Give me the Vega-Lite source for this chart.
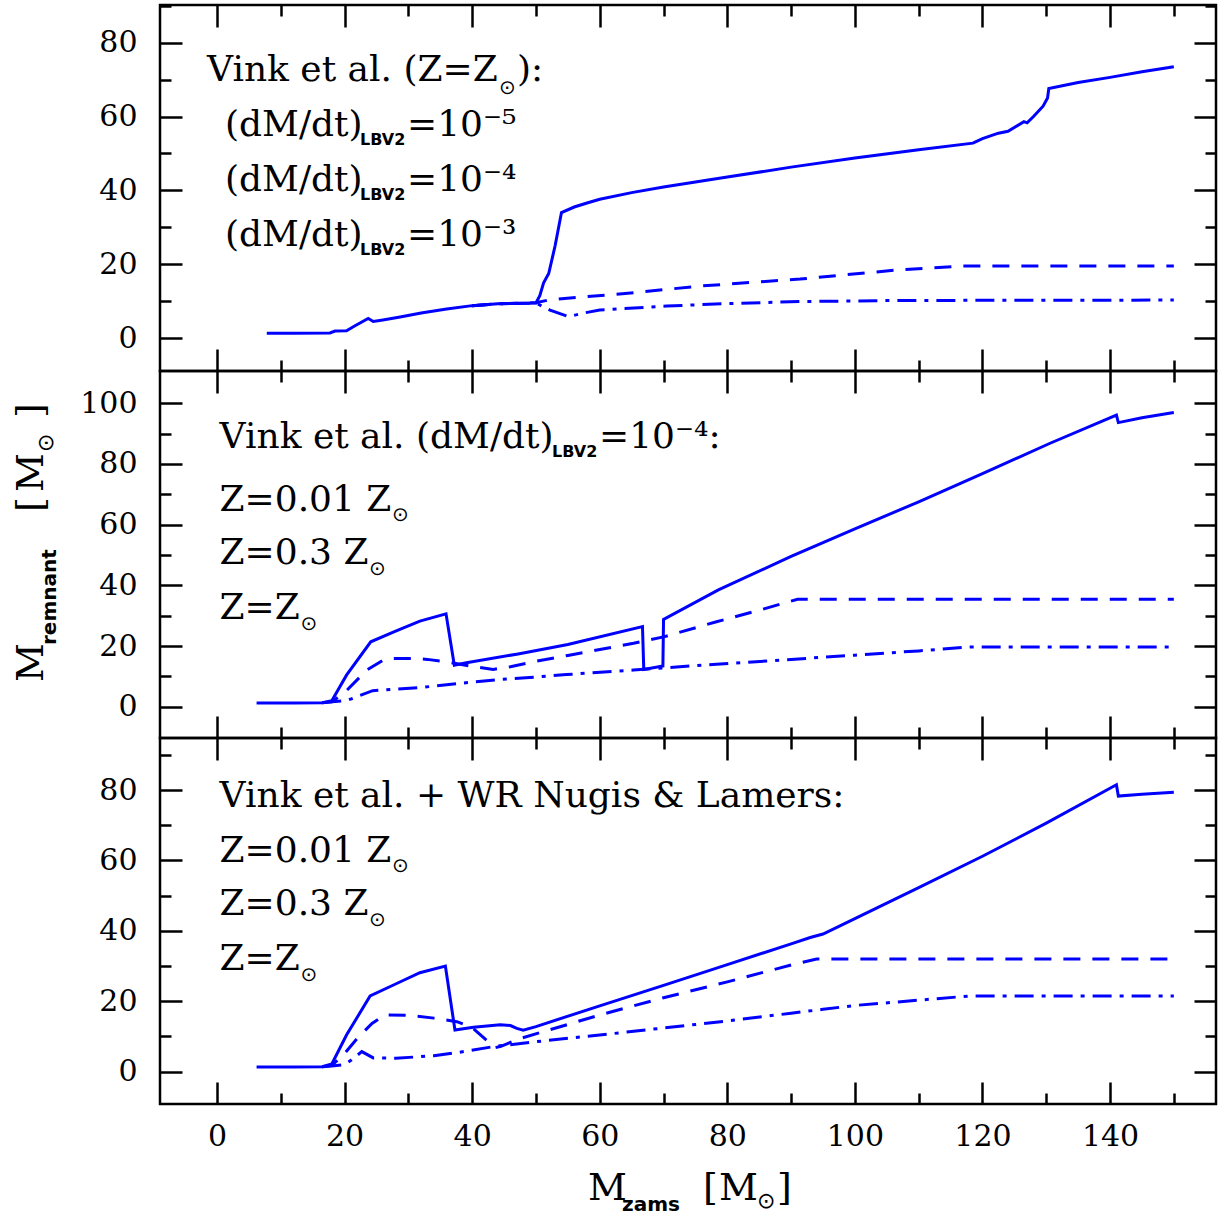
{
  "$schema": "https://vega.github.io/schema/vega-lite/v6.json",
  "autosize": {"type": "none"},
  "padding": {"left": 160, "top": 5, "right": 1058, "bottom": 1213},
  "background": "white",
  "spacing": 0,
  "bounds": "flush",
  "config": {
    "view": {"stroke": "black", "strokeWidth": 2.5},
    "axis": {"domain": false, "grid": false, "tickColor": "black", "tickWidth": 2.5, "labelFont": "DejaVu Serif", "labelFontSize": 30, "labelColor": "black", "labelOverlap": false, "labelFlush": false, "labelBound": false}
  },
  "datasets": {
    "p1": [
      {"x": 7.8, "y": 1.3, "s": "a"}, {"x": 12, "y": 1.3, "s": "a"}, {"x": 17.7, "y": 1.4, "s": "a"}, {"x": 18.5, "y": 1.9, "s": "a"}, {"x": 20.3, "y": 2.0, "s": "a"}, {"x": 21.5, "y": 3.2, "s": "a"}, {"x": 23.7, "y": 5.3, "s": "a"}, {"x": 24.5, "y": 4.5, "s": "a"}, {"x": 26, "y": 4.9, "s": "a"}, {"x": 28.7, "y": 5.7, "s": "a"}, {"x": 32, "y": 6.8, "s": "a"}, {"x": 36, "y": 7.9, "s": "a"}, {"x": 40, "y": 8.8, "s": "a"}, {"x": 44, "y": 9.3, "s": "a"}, {"x": 50, "y": 9.5, "s": "a"}, {"x": 50.6, "y": 11.5, "s": "a"}, {"x": 51.2, "y": 15, "s": "a"}, {"x": 52, "y": 17.5, "s": "a"}, {"x": 53, "y": 25, "s": "a"}, {"x": 54, "y": 34, "s": "a"}, {"x": 56, "y": 35.5, "s": "a"}, {"x": 58, "y": 36.6, "s": "a"}, {"x": 60, "y": 37.6, "s": "a"}, {"x": 65, "y": 39.4, "s": "a"}, {"x": 70, "y": 40.9, "s": "a"}, {"x": 75, "y": 42.3, "s": "a"}, {"x": 80, "y": 43.6, "s": "a"}, {"x": 90, "y": 46.3, "s": "a"}, {"x": 100, "y": 48.8, "s": "a"}, {"x": 110, "y": 51.0, "s": "a"}, {"x": 118.5, "y": 52.8, "s": "a"}, {"x": 119, "y": 53.2, "s": "a"}, {"x": 120, "y": 54.0, "s": "a"}, {"x": 122.5, "y": 55.5, "s": "a"}, {"x": 124, "y": 56.0, "s": "a"}, {"x": 126.5, "y": 58.6, "s": "a"}, {"x": 127, "y": 58.3, "s": "a"}, {"x": 128, "y": 60.0, "s": "a"}, {"x": 129.5, "y": 62.8, "s": "a"}, {"x": 130.2, "y": 65.0, "s": "a"}, {"x": 130.4, "y": 67.6, "s": "a"}, {"x": 135, "y": 69.2, "s": "a"}, {"x": 140, "y": 70.6, "s": "a"}, {"x": 145, "y": 72.1, "s": "a"}, {"x": 150, "y": 73.5, "s": "a"},
      {"x": 40, "y": 8.8, "s": "b"}, {"x": 44, "y": 9.3, "s": "b"}, {"x": 50, "y": 9.6, "s": "b"}, {"x": 52.2, "y": 10.4, "s": "b"}, {"x": 65.3, "y": 12.3, "s": "b"}, {"x": 75.7, "y": 14.1, "s": "b"}, {"x": 91.4, "y": 16.0, "s": "b"}, {"x": 107, "y": 18.5, "s": "b"}, {"x": 116.5, "y": 19.5, "s": "b"}, {"x": 150, "y": 19.5, "s": "b"},
      {"x": 40, "y": 8.8, "s": "c"}, {"x": 44, "y": 9.3, "s": "c"}, {"x": 50, "y": 9.5, "s": "c"}, {"x": 52.2, "y": 7.6, "s": "c"}, {"x": 55.1, "y": 5.8, "s": "c"}, {"x": 57.5, "y": 6.8, "s": "c"}, {"x": 60, "y": 7.6, "s": "c"}, {"x": 70.5, "y": 8.7, "s": "c"}, {"x": 80.9, "y": 9.4, "s": "c"}, {"x": 91.4, "y": 9.9, "s": "c"}, {"x": 107, "y": 10.2, "s": "c"}, {"x": 150, "y": 10.3, "s": "c"}
    ],
    "p2": [
      {"x": 6.2, "y": 1.2, "s": "a"}, {"x": 12, "y": 1.2, "s": "a"}, {"x": 16.5, "y": 1.3, "s": "a"}, {"x": 18, "y": 2.0, "s": "a"}, {"x": 20.3, "y": 10.4, "s": "a"}, {"x": 24.1, "y": 21.4, "s": "a"}, {"x": 28, "y": 24.9, "s": "a"}, {"x": 31.8, "y": 28.2, "s": "a"}, {"x": 35.9, "y": 30.6, "s": "a"}, {"x": 37.2, "y": 13.7, "s": "a"}, {"x": 39.1, "y": 14.5, "s": "a"}, {"x": 47.2, "y": 17.4, "s": "a"}, {"x": 55, "y": 20.5, "s": "a"}, {"x": 66.7, "y": 26.4, "s": "a"}, {"x": 66.9, "y": 12.3, "s": "a"}, {"x": 69.9, "y": 13.4, "s": "a"}, {"x": 70.0, "y": 28.8, "s": "a"}, {"x": 78.6, "y": 38.5, "s": "a"}, {"x": 90, "y": 49.5, "s": "a"}, {"x": 100, "y": 58.6, "s": "a"}, {"x": 110, "y": 67.5, "s": "a"}, {"x": 120, "y": 76.8, "s": "a"}, {"x": 130.6, "y": 86.8, "s": "a"}, {"x": 141, "y": 96.1, "s": "a"}, {"x": 141.3, "y": 93.6, "s": "a"}, {"x": 145, "y": 95.2, "s": "a"}, {"x": 150, "y": 96.9, "s": "a"},
      {"x": 16.5, "y": 1.3, "s": "b"}, {"x": 18, "y": 1.6, "s": "b"}, {"x": 20.1, "y": 4.9, "s": "b"}, {"x": 23.5, "y": 12.1, "s": "b"}, {"x": 26.1, "y": 15.4, "s": "b"}, {"x": 27.1, "y": 15.9, "s": "b"}, {"x": 30.8, "y": 15.9, "s": "b"}, {"x": 33, "y": 15.6, "s": "b"}, {"x": 36, "y": 14.8, "s": "b"}, {"x": 40, "y": 13.3, "s": "b"}, {"x": 43.3, "y": 12.3, "s": "b"}, {"x": 46, "y": 13.2, "s": "b"}, {"x": 49.6, "y": 14.8, "s": "b"}, {"x": 55, "y": 16.9, "s": "b"}, {"x": 65.3, "y": 20.9, "s": "b"}, {"x": 70, "y": 23.0, "s": "b"}, {"x": 78.3, "y": 28.0, "s": "b"}, {"x": 85, "y": 31.8, "s": "b"}, {"x": 91, "y": 35.4, "s": "b"}, {"x": 150, "y": 35.4, "s": "b"},
      {"x": 16.5, "y": 1.3, "s": "c"}, {"x": 18, "y": 1.6, "s": "c"}, {"x": 20.3, "y": 2.0, "s": "c"}, {"x": 24.4, "y": 5.3, "s": "c"}, {"x": 31.8, "y": 6.3, "s": "c"}, {"x": 38.1, "y": 7.7, "s": "c"}, {"x": 44.4, "y": 9.0, "s": "c"}, {"x": 49.6, "y": 9.7, "s": "c"}, {"x": 54.8, "y": 10.6, "s": "c"}, {"x": 65.3, "y": 12.1, "s": "c"}, {"x": 70, "y": 12.8, "s": "c"}, {"x": 78.3, "y": 14.0, "s": "c"}, {"x": 90, "y": 15.6, "s": "c"}, {"x": 100, "y": 17.0, "s": "c"}, {"x": 110, "y": 18.4, "s": "c"}, {"x": 118, "y": 19.7, "s": "c"}, {"x": 150, "y": 19.7, "s": "c"}
    ],
    "p3": [
      {"x": 6.2, "y": 1.3, "s": "a"}, {"x": 12, "y": 1.3, "s": "a"}, {"x": 16.5, "y": 1.4, "s": "a"}, {"x": 18, "y": 2.2, "s": "a"}, {"x": 20.3, "y": 10.4, "s": "a"}, {"x": 24, "y": 21.5, "s": "a"}, {"x": 28, "y": 24.9, "s": "a"}, {"x": 31.8, "y": 28.1, "s": "a"}, {"x": 35.8, "y": 30.0, "s": "a"}, {"x": 37.3, "y": 11.8, "s": "a"}, {"x": 40.2, "y": 12.6, "s": "a"}, {"x": 44.4, "y": 13.3, "s": "a"}, {"x": 46, "y": 13.1, "s": "a"}, {"x": 47, "y": 12.3, "s": "a"}, {"x": 48, "y": 11.8, "s": "a"}, {"x": 50, "y": 12.8, "s": "a"}, {"x": 60, "y": 18.7, "s": "a"}, {"x": 70, "y": 24.5, "s": "a"}, {"x": 80, "y": 30.4, "s": "a"}, {"x": 90, "y": 36.3, "s": "a"}, {"x": 93, "y": 38.1, "s": "a"}, {"x": 95, "y": 39.1, "s": "a"}, {"x": 100, "y": 43.5, "s": "a"}, {"x": 110, "y": 52.3, "s": "a"}, {"x": 120, "y": 61.2, "s": "a"}, {"x": 130, "y": 70.6, "s": "a"}, {"x": 141, "y": 81.5, "s": "a"}, {"x": 141.3, "y": 78.3, "s": "a"}, {"x": 145, "y": 78.8, "s": "a"}, {"x": 150, "y": 79.4, "s": "a"},
      {"x": 16.5, "y": 1.4, "s": "b"}, {"x": 18, "y": 1.8, "s": "b"}, {"x": 19.8, "y": 4.7, "s": "b"}, {"x": 22, "y": 9.5, "s": "b"}, {"x": 24.3, "y": 13.7, "s": "b"}, {"x": 26.3, "y": 16.1, "s": "b"}, {"x": 30, "y": 16.0, "s": "b"}, {"x": 34, "y": 15.2, "s": "b"}, {"x": 37.6, "y": 14.2, "s": "b"}, {"x": 40, "y": 12.5, "s": "b"}, {"x": 41.7, "y": 9.8, "s": "b"}, {"x": 43.6, "y": 6.8, "s": "b"}, {"x": 44.5, "y": 7.2, "s": "b"}, {"x": 47.5, "y": 9.4, "s": "b"}, {"x": 52, "y": 11.8, "s": "b"}, {"x": 60, "y": 16.1, "s": "b"}, {"x": 70, "y": 21.0, "s": "b"}, {"x": 80, "y": 25.5, "s": "b"}, {"x": 90, "y": 30.3, "s": "b"}, {"x": 94, "y": 32.0, "s": "b"}, {"x": 150, "y": 32.0, "s": "b"},
      {"x": 16.5, "y": 1.4, "s": "c"}, {"x": 18, "y": 1.6, "s": "c"}, {"x": 20, "y": 2.0, "s": "c"}, {"x": 21, "y": 3.2, "s": "c"}, {"x": 22.7, "y": 5.7, "s": "c"}, {"x": 24.5, "y": 3.9, "s": "c"}, {"x": 28, "y": 3.8, "s": "c"}, {"x": 34, "y": 4.5, "s": "c"}, {"x": 38, "y": 5.5, "s": "c"}, {"x": 43.3, "y": 7.1, "s": "c"}, {"x": 50, "y": 8.5, "s": "c"}, {"x": 60, "y": 10.4, "s": "c"}, {"x": 70, "y": 12.4, "s": "c"}, {"x": 80, "y": 14.4, "s": "c"}, {"x": 90, "y": 16.6, "s": "c"}, {"x": 95, "y": 17.7, "s": "c"}, {"x": 100, "y": 18.8, "s": "c"}, {"x": 110, "y": 20.3, "s": "c"}, {"x": 118, "y": 21.5, "s": "c"}, {"x": 150, "y": 21.5, "s": "c"}
    ],
    "t1": [
      {"x": -1.57, "y": 69.63, "t": "Vink et al. (Z=Z", "k": "m"},
      {"x": 44.21, "y": 66.2, "t": "⊙", "k": "o"},
      {"x": 47.03, "y": 69.63, "t": "):", "k": "m"},
      {"x": 1.25, "y": 54.74, "t": "(dM/dt)", "k": "m"},
      {"x": 22.42, "y": 52.3, "t": "LBV2", "k": "s"},
      {"x": 29.79, "y": 54.74, "t": "=10⁻⁵", "k": "m"},
      {"x": 1.25, "y": 39.85, "t": "(dM/dt)", "k": "m"},
      {"x": 22.42, "y": 37.41, "t": "LBV2", "k": "s"},
      {"x": 29.79, "y": 39.85, "t": "=10⁻⁴", "k": "m"},
      {"x": 1.25, "y": 24.96, "t": "(dM/dt)", "k": "m"},
      {"x": 22.42, "y": 22.52, "t": "LBV2", "k": "s"},
      {"x": 29.79, "y": 24.96, "t": "=10⁻³", "k": "m"}
    ],
    "t2": [
      {"x": 0.4, "y": 85.14, "t": "Vink et al. (dM/dt)", "k": "m"},
      {"x": 52.52, "y": 82.27, "t": "LBV2", "k": "s"},
      {"x": 59.89, "y": 85.14, "t": "=10⁻⁴:", "k": "m"},
      {"x": 0.4, "y": 64.58, "t": "Z=0.01 Z", "k": "m"},
      {"x": 27.44, "y": 61.2, "t": "⊙", "k": "o"},
      {"x": 0.4, "y": 47.02, "t": "Z=0.3 Z", "k": "m"},
      {"x": 23.83, "y": 43.4, "t": "⊙", "k": "o"},
      {"x": 0.4, "y": 28.9, "t": "Z=Z", "k": "m"},
      {"x": 13.09, "y": 25.4, "t": "⊙", "k": "o"},
      {"x": -27.28, "y": 8.15, "t": "M", "k": "ym"},
      {"x": -25.24, "y": 20.34, "t": "remnant", "k": "ys"},
      {"x": -27.28, "y": 64.15, "t": "[", "k": "ym"},
      {"x": -27.28, "y": 70.74, "t": "M", "k": "ym"},
      {"x": -25.71, "y": 83.92, "t": "⊙", "k": "yo"},
      {"x": -27.28, "y": 95.12, "t": "]", "k": "ym"}
    ],
    "t3": [
      {"x": 0.4, "y": 75.11, "t": "Vink et al. + WR Nugis & Lamers:", "k": "m"},
      {"x": 0.4, "y": 59.65, "t": "Z=0.01 Z", "k": "m"},
      {"x": 27.44, "y": 56.72, "t": "⊙", "k": "o"},
      {"x": 0.4, "y": 44.5, "t": "Z=0.3 Z", "k": "m"},
      {"x": 23.83, "y": 41.52, "t": "⊙", "k": "o"},
      {"x": 0.4, "y": 28.87, "t": "Z=Z", "k": "m"},
      {"x": 13.09, "y": 25.89, "t": "⊙", "k": "o"},
      {"x": 58.16, "y": -36.5, "t": "M", "k": "xm"},
      {"x": 63.49, "y": -39.6, "t": "zams", "k": "xs"},
      {"x": 76.19, "y": -36.5, "t": "[", "k": "xm"},
      {"x": 78.7, "y": -36.5, "t": "M", "k": "xm"},
      {"x": 84.66, "y": -38.8, "t": "⊙", "k": "xo"},
      {"x": 87.79, "y": -36.5, "t": "]", "k": "xm"}
    ]
  },
  "vconcat": [
    {
      "width": 1056, "height": 366,
      "resolve": {"axis": {"x": "independent", "y": "independent"}},
      "layer": [
        {"data": {"name": "p1"}, "transform": [{"filter": "datum.s == 'a'"}],
         "mark": {"type": "line", "color": "#0000ff", "strokeWidth": 3},
         "encoding": {
           "x": {"field": "x", "type": "quantitative", "scale": {"domain": [-8.94, 156.61], "nice": false, "zero": false}, "axis": {"orient": "bottom", "values": [0, 20, 40, 60, 80, 100, 120, 140], "tickSize": -22, "labels": false, "title": null}},
           "y": {"field": "y", "type": "quantitative", "scale": {"domain": [-8.9, 90.2], "nice": false, "zero": false}, "axis": {"orient": "left", "values": [0, 20, 40, 60, 80], "tickSize": -22, "labelPadding": 45, "title": null}}
         }},
        {"data": {"name": "p1"}, "transform": [{"filter": "datum.s == 'b'"}],
         "mark": {"type": "line", "color": "#0000ff", "strokeWidth": 3, "strokeDash": [17, 12]},
         "encoding": {
           "x": {"field": "x", "type": "quantitative", "scale": {"domain": [-8.94, 156.61], "nice": false, "zero": false}, "axis": {"orient": "bottom", "values": [10, 30, 50, 70, 90, 110, 130, 150], "tickSize": -11, "labels": false, "title": null}},
           "y": {"field": "y", "type": "quantitative", "scale": {"domain": [-8.9, 90.2], "nice": false, "zero": false}, "axis": {"orient": "left", "values": [10, 30, 50, 70, 90], "tickSize": -11, "labels": false, "title": null}}
         }},
        {"data": {"name": "p1"}, "transform": [{"filter": "datum.s == 'c'"}],
         "mark": {"type": "line", "color": "#0000ff", "strokeWidth": 3, "strokeDash": [19, 8, 4, 8]},
         "encoding": {
           "x": {"field": "x", "type": "quantitative", "scale": {"domain": [-8.94, 156.61], "nice": false, "zero": false}, "axis": {"orient": "top", "values": [0, 20, 40, 60, 80, 100, 120, 140], "tickSize": -22, "labels": false, "title": null}},
           "y": {"field": "y", "type": "quantitative", "scale": {"domain": [-8.9, 90.2], "nice": false, "zero": false}, "axis": {"orient": "right", "values": [0, 20, 40, 60, 80], "tickSize": -22, "labels": false, "title": null}}
         }},
        {"data": {"name": "t1"}, "transform": [{"filter": "datum.k == 'm'"}],
         "mark": {"type": "text", "align": "left", "baseline": "alphabetic", "font": "DejaVu Serif", "fontSize": 36, "color": "black"},
         "encoding": {
           "x": {"field": "x", "type": "quantitative", "scale": {"domain": [-8.94, 156.61], "nice": false, "zero": false}, "axis": {"orient": "top", "values": [10, 30, 50, 70, 90, 110, 130, 150], "tickSize": -11, "labels": false, "title": null}},
           "y": {"field": "y", "type": "quantitative", "scale": {"domain": [-8.9, 90.2], "nice": false, "zero": false}, "axis": {"orient": "right", "values": [10, 30, 50, 70, 90], "tickSize": -11, "labels": false, "title": null}},
           "text": {"field": "t"}
         }},
        {"data": {"name": "t1"}, "transform": [{"filter": "datum.k == 's'"}],
         "mark": {"type": "text", "align": "left", "baseline": "alphabetic", "font": "DejaVu Sans", "fontWeight": "bold", "fontSize": 16, "color": "black"},
         "encoding": {
           "x": {"field": "x", "type": "quantitative", "scale": {"domain": [-8.94, 156.61], "nice": false, "zero": false}, "axis": null},
           "y": {"field": "y", "type": "quantitative", "scale": {"domain": [-8.9, 90.2], "nice": false, "zero": false}, "axis": null},
           "text": {"field": "t"}
         }},
        {"data": {"name": "t1"}, "transform": [{"filter": "datum.k == 'o'"}],
         "mark": {"type": "text", "align": "left", "baseline": "alphabetic", "font": "DejaVu Sans", "fontSize": 20, "color": "black"},
         "encoding": {
           "x": {"field": "x", "type": "quantitative", "scale": {"domain": [-8.94, 156.61], "nice": false, "zero": false}, "axis": null},
           "y": {"field": "y", "type": "quantitative", "scale": {"domain": [-8.9, 90.2], "nice": false, "zero": false}, "axis": null},
           "text": {"field": "t"}
         }}
      ]
    },
    {
      "width": 1056, "height": 367,
      "resolve": {"axis": {"x": "independent", "y": "independent"}},
      "layer": [
        {"data": {"name": "p2"}, "transform": [{"filter": "datum.s == 'a'"}],
         "mark": {"type": "line", "color": "#0000ff", "strokeWidth": 3},
         "encoding": {
           "x": {"field": "x", "type": "quantitative", "scale": {"domain": [-8.94, 156.61], "nice": false, "zero": false}, "axis": {"orient": "bottom", "values": [0, 20, 40, 60, 80, 100, 120, 140], "tickSize": -22, "labels": false, "title": null}},
           "y": {"field": "y", "type": "quantitative", "scale": {"domain": [-10.3, 110.6], "nice": false, "zero": false}, "axis": {"orient": "left", "values": [0, 20, 40, 60, 80, 100], "tickSize": -22, "labelPadding": 45, "title": null}}
         }},
        {"data": {"name": "p2"}, "transform": [{"filter": "datum.s == 'b'"}],
         "mark": {"type": "line", "color": "#0000ff", "strokeWidth": 3, "strokeDash": [17, 12]},
         "encoding": {
           "x": {"field": "x", "type": "quantitative", "scale": {"domain": [-8.94, 156.61], "nice": false, "zero": false}, "axis": {"orient": "bottom", "values": [10, 30, 50, 70, 90, 110, 130, 150], "tickSize": -11, "labels": false, "title": null}},
           "y": {"field": "y", "type": "quantitative", "scale": {"domain": [-10.3, 110.6], "nice": false, "zero": false}, "axis": {"orient": "left", "values": [10, 30, 50, 70, 90], "tickSize": -11, "labels": false, "title": null}}
         }},
        {"data": {"name": "p2"}, "transform": [{"filter": "datum.s == 'c'"}],
         "mark": {"type": "line", "color": "#0000ff", "strokeWidth": 3, "strokeDash": [19, 8, 4, 8]},
         "encoding": {
           "x": {"field": "x", "type": "quantitative", "scale": {"domain": [-8.94, 156.61], "nice": false, "zero": false}, "axis": {"orient": "top", "values": [0, 20, 40, 60, 80, 100, 120, 140], "tickSize": -22, "labels": false, "title": null}},
           "y": {"field": "y", "type": "quantitative", "scale": {"domain": [-10.3, 110.6], "nice": false, "zero": false}, "axis": {"orient": "right", "values": [0, 20, 40, 60, 80, 100], "tickSize": -22, "labels": false, "title": null}}
         }},
        {"data": {"name": "t2"}, "transform": [{"filter": "datum.k == 'm'"}],
         "mark": {"type": "text", "align": "left", "baseline": "alphabetic", "font": "DejaVu Serif", "fontSize": 36, "color": "black"},
         "encoding": {
           "x": {"field": "x", "type": "quantitative", "scale": {"domain": [-8.94, 156.61], "nice": false, "zero": false}, "axis": {"orient": "top", "values": [10, 30, 50, 70, 90, 110, 130, 150], "tickSize": -11, "labels": false, "title": null}},
           "y": {"field": "y", "type": "quantitative", "scale": {"domain": [-10.3, 110.6], "nice": false, "zero": false}, "axis": {"orient": "right", "values": [10, 30, 50, 70, 90], "tickSize": -11, "labels": false, "title": null}},
           "text": {"field": "t"}
         }},
        {"data": {"name": "t2"}, "transform": [{"filter": "datum.k == 's'"}],
         "mark": {"type": "text", "align": "left", "baseline": "alphabetic", "font": "DejaVu Sans", "fontWeight": "bold", "fontSize": 16, "color": "black"},
         "encoding": {
           "x": {"field": "x", "type": "quantitative", "scale": {"domain": [-8.94, 156.61], "nice": false, "zero": false}, "axis": null},
           "y": {"field": "y", "type": "quantitative", "scale": {"domain": [-10.3, 110.6], "nice": false, "zero": false}, "axis": null},
           "text": {"field": "t"}
         }},
        {"data": {"name": "t2"}, "transform": [{"filter": "datum.k == 'o'"}],
         "mark": {"type": "text", "align": "left", "baseline": "alphabetic", "font": "DejaVu Sans", "fontSize": 20, "color": "black"},
         "encoding": {
           "x": {"field": "x", "type": "quantitative", "scale": {"domain": [-8.94, 156.61], "nice": false, "zero": false}, "axis": null},
           "y": {"field": "y", "type": "quantitative", "scale": {"domain": [-10.3, 110.6], "nice": false, "zero": false}, "axis": null},
           "text": {"field": "t"}
         }},
        {"data": {"name": "t2"}, "transform": [{"filter": "datum.k == 'ym'"}],
         "mark": {"type": "text", "align": "left", "baseline": "alphabetic", "angle": 270, "font": "DejaVu Serif", "fontSize": 38, "color": "black"},
         "encoding": {
           "x": {"field": "x", "type": "quantitative", "scale": {"domain": [-8.94, 156.61], "nice": false, "zero": false}, "axis": null},
           "y": {"field": "y", "type": "quantitative", "scale": {"domain": [-10.3, 110.6], "nice": false, "zero": false}, "axis": null},
           "text": {"field": "t"}
         }},
        {"data": {"name": "t2"}, "transform": [{"filter": "datum.k == 'ys'"}],
         "mark": {"type": "text", "align": "left", "baseline": "alphabetic", "angle": 270, "font": "DejaVu Sans", "fontWeight": "bold", "fontSize": 20, "color": "black"},
         "encoding": {
           "x": {"field": "x", "type": "quantitative", "scale": {"domain": [-8.94, 156.61], "nice": false, "zero": false}, "axis": null},
           "y": {"field": "y", "type": "quantitative", "scale": {"domain": [-10.3, 110.6], "nice": false, "zero": false}, "axis": null},
           "text": {"field": "t"}
         }},
        {"data": {"name": "t2"}, "transform": [{"filter": "datum.k == 'yo'"}],
         "mark": {"type": "text", "align": "left", "baseline": "alphabetic", "angle": 270, "font": "DejaVu Sans", "fontSize": 22, "color": "black"},
         "encoding": {
           "x": {"field": "x", "type": "quantitative", "scale": {"domain": [-8.94, 156.61], "nice": false, "zero": false}, "axis": null},
           "y": {"field": "y", "type": "quantitative", "scale": {"domain": [-10.3, 110.6], "nice": false, "zero": false}, "axis": null},
           "text": {"field": "t"}
         }}
      ]
    },
    {
      "width": 1056, "height": 366,
      "resolve": {"axis": {"x": "independent", "y": "independent"}},
      "layer": [
        {"data": {"name": "p3"}, "transform": [{"filter": "datum.s == 'a'"}],
         "mark": {"type": "line", "color": "#0000ff", "strokeWidth": 3},
         "encoding": {
           "x": {"field": "x", "type": "quantitative", "scale": {"domain": [-8.94, 156.61], "nice": false, "zero": false}, "axis": {"orient": "bottom", "values": [0, 20, 40, 60, 80, 100, 120, 140], "tickSize": -22, "labelPadding": 39, "title": null}},
           "y": {"field": "y", "type": "quantitative", "scale": {"domain": [-9.2, 94.8], "nice": false, "zero": false}, "axis": {"orient": "left", "values": [0, 20, 40, 60, 80], "tickSize": -22, "labelPadding": 45, "title": null}}
         }},
        {"data": {"name": "p3"}, "transform": [{"filter": "datum.s == 'b'"}],
         "mark": {"type": "line", "color": "#0000ff", "strokeWidth": 3, "strokeDash": [17, 12]},
         "encoding": {
           "x": {"field": "x", "type": "quantitative", "scale": {"domain": [-8.94, 156.61], "nice": false, "zero": false}, "axis": {"orient": "bottom", "values": [10, 30, 50, 70, 90, 110, 130, 150], "tickSize": -11, "labels": false, "title": null}},
           "y": {"field": "y", "type": "quantitative", "scale": {"domain": [-9.2, 94.8], "nice": false, "zero": false}, "axis": {"orient": "left", "values": [10, 30, 50, 70, 90], "tickSize": -11, "labels": false, "title": null}}
         }},
        {"data": {"name": "p3"}, "transform": [{"filter": "datum.s == 'c'"}],
         "mark": {"type": "line", "color": "#0000ff", "strokeWidth": 3, "strokeDash": [19, 8, 4, 8]},
         "encoding": {
           "x": {"field": "x", "type": "quantitative", "scale": {"domain": [-8.94, 156.61], "nice": false, "zero": false}, "axis": {"orient": "top", "values": [0, 20, 40, 60, 80, 100, 120, 140], "tickSize": -22, "labels": false, "title": null}},
           "y": {"field": "y", "type": "quantitative", "scale": {"domain": [-9.2, 94.8], "nice": false, "zero": false}, "axis": {"orient": "right", "values": [0, 20, 40, 60, 80], "tickSize": -22, "labels": false, "title": null}}
         }},
        {"data": {"name": "t3"}, "transform": [{"filter": "datum.k == 'm'"}],
         "mark": {"type": "text", "align": "left", "baseline": "alphabetic", "font": "DejaVu Serif", "fontSize": 36, "color": "black"},
         "encoding": {
           "x": {"field": "x", "type": "quantitative", "scale": {"domain": [-8.94, 156.61], "nice": false, "zero": false}, "axis": {"orient": "top", "values": [10, 30, 50, 70, 90, 110, 130, 150], "tickSize": -11, "labels": false, "title": null}},
           "y": {"field": "y", "type": "quantitative", "scale": {"domain": [-9.2, 94.8], "nice": false, "zero": false}, "axis": {"orient": "right", "values": [10, 30, 50, 70, 90], "tickSize": -11, "labels": false, "title": null}},
           "text": {"field": "t"}
         }},
        {"data": {"name": "t3"}, "transform": [{"filter": "datum.k == 'o'"}],
         "mark": {"type": "text", "align": "left", "baseline": "alphabetic", "font": "DejaVu Sans", "fontSize": 20, "color": "black"},
         "encoding": {
           "x": {"field": "x", "type": "quantitative", "scale": {"domain": [-8.94, 156.61], "nice": false, "zero": false}, "axis": null},
           "y": {"field": "y", "type": "quantitative", "scale": {"domain": [-9.2, 94.8], "nice": false, "zero": false}, "axis": null},
           "text": {"field": "t"}
         }},
        {"data": {"name": "t3"}, "transform": [{"filter": "datum.k == 'xm'"}],
         "mark": {"type": "text", "align": "left", "baseline": "alphabetic", "font": "DejaVu Serif", "fontSize": 38, "color": "black"},
         "encoding": {
           "x": {"field": "x", "type": "quantitative", "scale": {"domain": [-8.94, 156.61], "nice": false, "zero": false}, "axis": null},
           "y": {"field": "y", "type": "quantitative", "scale": {"domain": [-9.2, 94.8], "nice": false, "zero": false}, "axis": null},
           "text": {"field": "t"}
         }},
        {"data": {"name": "t3"}, "transform": [{"filter": "datum.k == 'xs'"}],
         "mark": {"type": "text", "align": "left", "baseline": "alphabetic", "font": "DejaVu Sans", "fontWeight": "bold", "fontSize": 20, "color": "black"},
         "encoding": {
           "x": {"field": "x", "type": "quantitative", "scale": {"domain": [-8.94, 156.61], "nice": false, "zero": false}, "axis": null},
           "y": {"field": "y", "type": "quantitative", "scale": {"domain": [-9.2, 94.8], "nice": false, "zero": false}, "axis": null},
           "text": {"field": "t"}
         }},
        {"data": {"name": "t3"}, "transform": [{"filter": "datum.k == 'xo'"}],
         "mark": {"type": "text", "align": "left", "baseline": "alphabetic", "font": "DejaVu Sans", "fontSize": 22, "color": "black"},
         "encoding": {
           "x": {"field": "x", "type": "quantitative", "scale": {"domain": [-8.94, 156.61], "nice": false, "zero": false}, "axis": null},
           "y": {"field": "y", "type": "quantitative", "scale": {"domain": [-9.2, 94.8], "nice": false, "zero": false}, "axis": null},
           "text": {"field": "t"}
         }}
      ]
    }
  ]
}
